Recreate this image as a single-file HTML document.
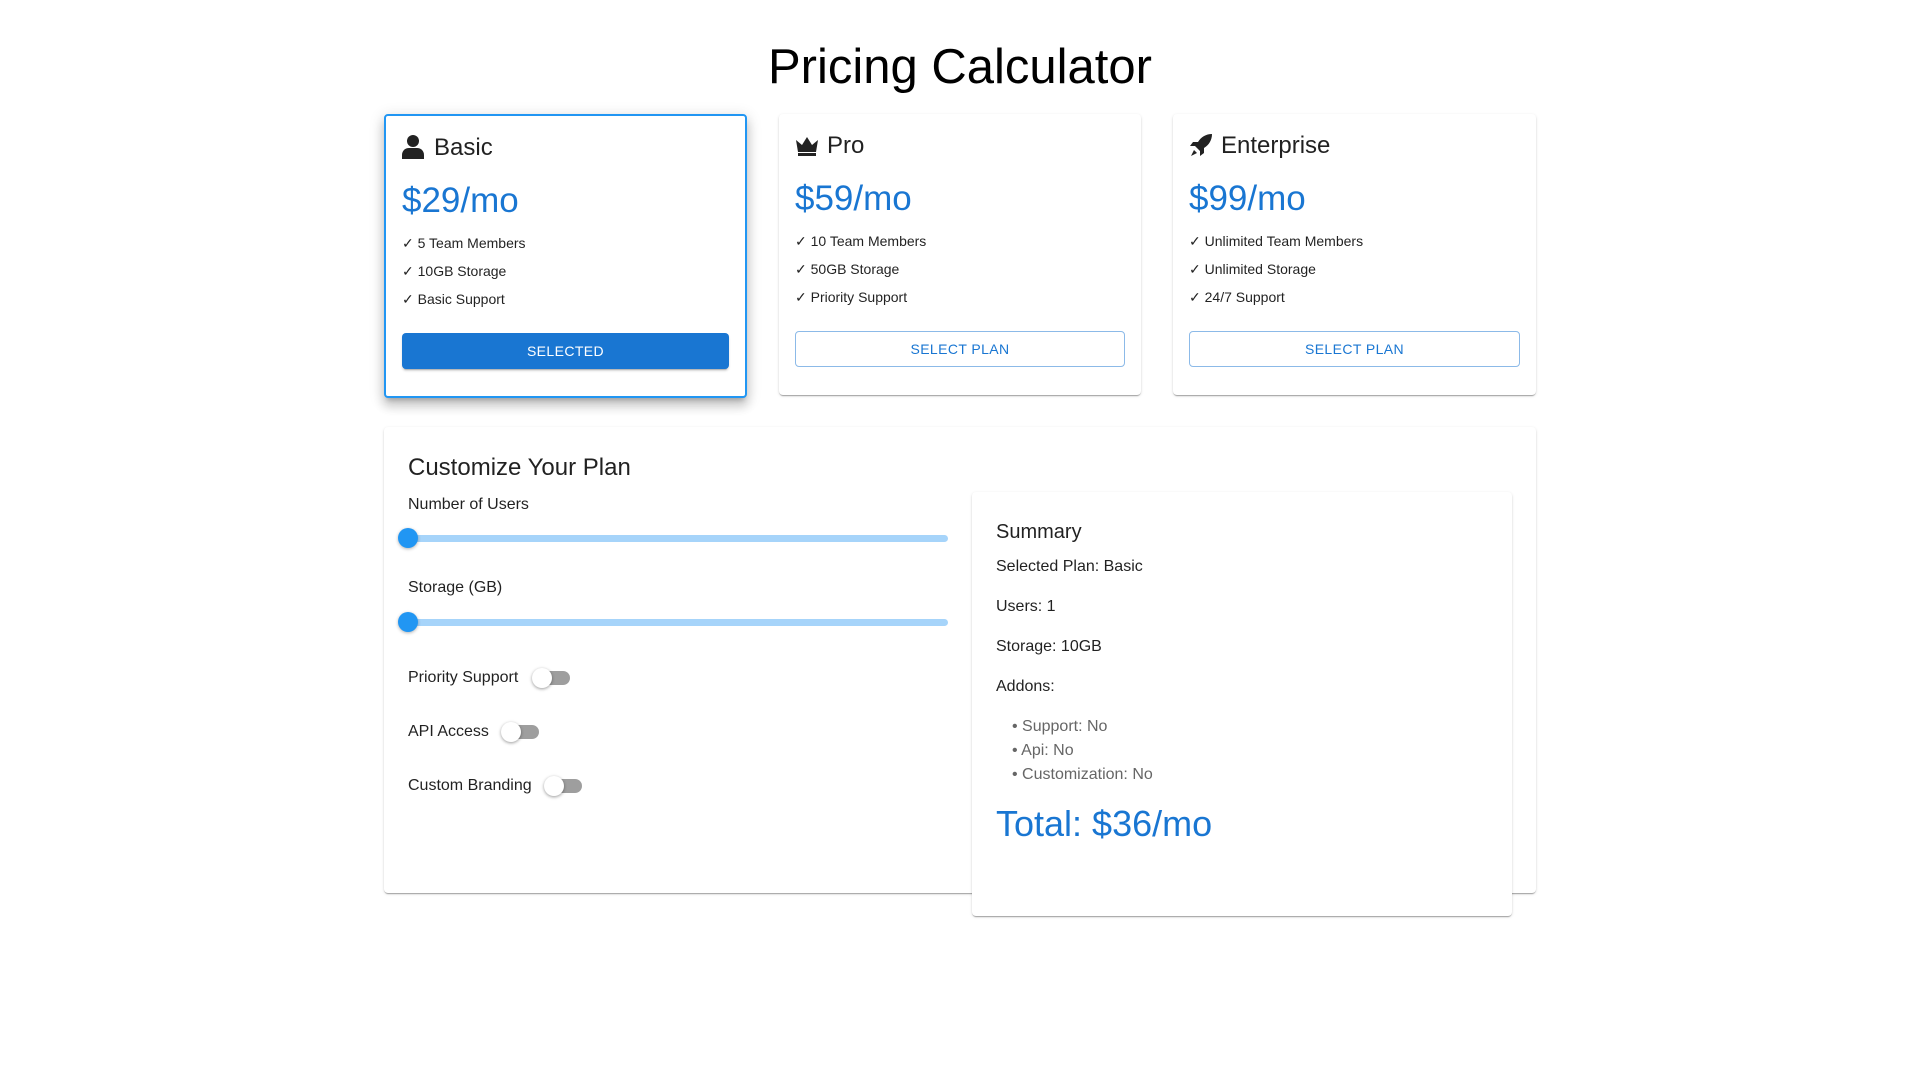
<!DOCTYPE html>
<html><head><meta charset="utf-8"><style>
*{box-sizing:border-box;margin:0;padding:0}
body{width:1920px;height:1080px;background:#fff;font-family:"Liberation Sans",Arial,sans-serif;color:rgba(0,0,0,.87);position:relative;overflow:hidden}
.a{position:absolute;white-space:nowrap}
.card{position:absolute;background:#fff;border-radius:4px;box-shadow:0 2px 1px -1px rgba(0,0,0,.2),0 1px 1px 0 rgba(0,0,0,.14),0 1px 3px 0 rgba(0,0,0,.12)}
.sel{border:2px solid #2196f3;box-shadow:0 5px 5px -3px rgba(0,0,0,.2),0 8px 10px 1px rgba(0,0,0,.14),0 3px 14px 2px rgba(0,0,0,.12)}
.h{font-size:24px;line-height:1}
.p{font-size:35px;color:#1976d2;line-height:1}
.f{font-size:14px;line-height:1}
.btn{position:absolute;height:36px;border-radius:4px;font-size:14px;letter-spacing:.4px;display:flex;align-items:center;justify-content:center}
.track{position:absolute;height:7px;background:#a6d4fa;border-radius:4px}
.thumb{position:absolute;width:20px;height:20px;border-radius:50%;background:#2196f3;box-shadow:0 1px 3px rgba(0,0,0,.3)}
.sw{position:absolute;width:34px;height:14px;border-radius:7px;background:#9e9e9e}
.sw i{position:absolute;left:-4px;top:-3px;width:20px;height:20px;border-radius:50%;background:#fff;box-shadow:0 1px 3px rgba(0,0,0,.4)}
.t{font-size:16px;line-height:1}
.g{font-size:16px;color:#666;line-height:1}
</style></head><body>
<div class="a" style="left:0;width:1920px;text-align:center;top:43px;font-size:49px;line-height:1;color:#000">Pricing Calculator</div>

<div class="card sel" style="left:384px;top:114px;width:363px;height:284px"></div>
<svg class="a" style="left:402px;top:135px" width="22" height="24" viewBox="0 0 22 24"><circle cx="11" cy="6" r="6" fill="#222"/><path d="M0 24v-4c0-4 3-7 7-7h8c4 0 7 3 7 7v4z" fill="#222"/></svg>
<div class="a h" style="left:434px;top:136px">Basic</div>
<div class="a p" style="left:402px;top:183px">$29/mo</div>
<div class="a f" style="left:402px;top:236px">✓ 5 Team Members</div>
<div class="a f" style="left:402px;top:264px">✓ 10GB Storage</div>
<div class="a f" style="left:402px;top:292px">✓ Basic Support</div>
<div class="btn" style="left:402px;top:333px;width:327px;background:#1976d2;color:#fff;box-shadow:0 3px 1px -2px rgba(0,0,0,.2),0 2px 2px rgba(0,0,0,.14)">SELECTED</div>

<div class="card" style="left:779px;top:114px;width:362px;height:281px"></div>
<svg class="a" style="left:795px;top:135px" width="24" height="22" viewBox="0 0 24 22"><path d="M1 5l6 5 5-8 5 8 6-5-2 12H3z" fill="#222"/><rect x="3" y="18" width="18" height="3" fill="#222"/></svg>
<div class="a h" style="left:827px;top:134px">Pro</div>
<div class="a p" style="left:795px;top:181px">$59/mo</div>
<div class="a f" style="left:795px;top:234px">✓ 10 Team Members</div>
<div class="a f" style="left:795px;top:262px">✓ 50GB Storage</div>
<div class="a f" style="left:795px;top:290px">✓ Priority Support</div>
<div class="btn" style="left:795px;top:331px;width:330px;border:1px solid rgba(25,118,210,.5);color:#1976d2">SELECT PLAN</div>

<div class="card" style="left:1173px;top:114px;width:363px;height:281px"></div>
<svg class="a" style="left:1189px;top:133px" width="24" height="24" viewBox="0 0 24 24"><path d="M23 1c-6 0-11 3-14 8H4l-3 4h5l5 5v5l4-3v-5c5-3 8-8 8-14z" fill="#222"/><path d="M5 17l-3 6 6-3z" fill="#222"/></svg>
<div class="a h" style="left:1221px;top:134px">Enterprise</div>
<div class="a p" style="left:1189px;top:181px">$99/mo</div>
<div class="a f" style="left:1189px;top:234px">✓ Unlimited Team Members</div>
<div class="a f" style="left:1189px;top:262px">✓ Unlimited Storage</div>
<div class="a f" style="left:1189px;top:290px">✓ 24/7 Support</div>
<div class="btn" style="left:1189px;top:331px;width:331px;border:1px solid rgba(25,118,210,.5);color:#1976d2">SELECT PLAN</div>

<div class="card" style="left:384px;top:427px;width:1152px;height:466px"></div>
<div class="a h" style="left:408px;top:456px">Customize Your Plan</div>
<div class="a t" style="left:408px;top:497px">Number of Users</div>
<div class="track" style="left:408px;top:535px;width:540px"></div>
<div class="thumb" style="left:398px;top:528px"></div>
<div class="a t" style="left:408px;top:580px">Storage (GB)</div>
<div class="track" style="left:408px;top:619px;width:540px"></div>
<div class="thumb" style="left:398px;top:612px"></div>
<div class="a t" style="left:408px;top:670px">Priority Support</div>
<div class="sw" style="left:536px;top:671px"><i></i></div>
<div class="a t" style="left:408px;top:724px">API Access</div>
<div class="sw" style="left:505px;top:725px"><i></i></div>
<div class="a t" style="left:408px;top:778px">Custom Branding</div>
<div class="sw" style="left:548px;top:779px"><i></i></div>

<div class="card" style="left:972px;top:492px;width:540px;height:424px"></div>
<div class="a" style="left:996px;top:522px;font-size:20px;line-height:1">Summary</div>
<div class="a t" style="left:996px;top:559px">Selected Plan: Basic</div>
<div class="a t" style="left:996px;top:599px">Users: 1</div>
<div class="a t" style="left:996px;top:639px">Storage: 10GB</div>
<div class="a t" style="left:996px;top:679px">Addons:</div>
<div class="a g" style="left:1012px;top:719px">• Support: No</div>
<div class="a g" style="left:1012px;top:743px">• Api: No</div>
<div class="a g" style="left:1012px;top:767px">• Customization: No</div>
<div class="a" style="left:996px;top:806px;font-size:36px;line-height:1;color:#1976d2">Total: $36/mo</div>
</body></html>
